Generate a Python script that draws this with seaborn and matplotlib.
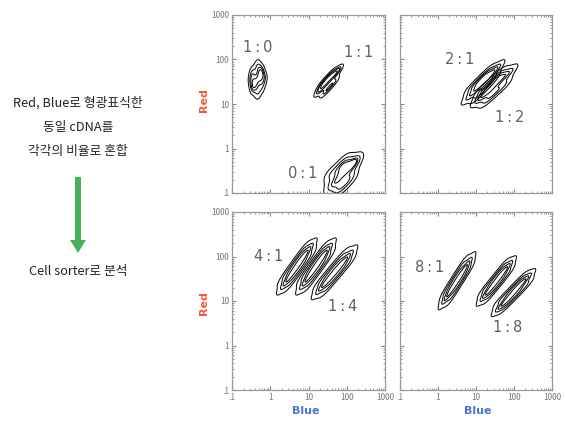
import matplotlib
matplotlib.use('Agg')
import numpy as np
import pandas as pd
import matplotlib.pyplot as plt
import seaborn as sns
from matplotlib.ticker import FixedLocator, FixedFormatter, LogLocator, NullFormatter

sns.set_style('white')
plt.rcParams['font.family'] = ['Noto Sans CJK KR', 'DejaVu Sans']

# approximate event positions, in decades (log10) of Blue / Red
# top left: 1:0, 1:1, 0:1
blue_10 = [-0.33, -0.46, -0.22, -0.5, -0.33, -0.15, -0.46, -0.24, -0.33, -0.4, -0.25]
red_10 = [1.22, 1.35, 1.38, 1.55, 1.55, 1.58, 1.72, 1.75, 1.88, 1.45, 1.65]
blue_11 = [1.25, 1.4, 1.55, 1.7, 1.8, 1.32, 1.47, 1.62, 1.4, 1.55, 1.7]
red_11 = [1.26, 1.4, 1.54, 1.68, 1.78, 1.42, 1.56, 1.7, 1.24, 1.38, 1.52]
blue_01 = [1.55, 1.75, 1.95, 2.15, 2.28, 1.55, 1.8, 2.0, 1.75, 1.95, 2.15]
red_01 = [-0.88, -0.7, -0.52, -0.35, -0.25, -0.6, -0.42, -0.25, -0.95, -0.8, -0.62]
# top right: 2:1, 1:2
blue_21 = [0.77, 1.0, 1.2, 1.4, 1.6, 0.85, 1.1, 1.33, 1.0, 1.25, 1.47]
red_21 = [1.12, 1.33, 1.5, 1.67, 1.85, 1.35, 1.55, 1.75, 1.15, 1.37, 1.57]
blue_12 = [1.03, 1.25, 1.47, 1.7, 1.93, 1.13, 1.4, 1.65, 1.25, 1.5, 1.77]
red_12 = [1.07, 1.23, 1.4, 1.6, 1.75, 1.3, 1.5, 1.7, 1.05, 1.25, 1.45]
# bottom left: 4:1, 1:4
blue_41a = [0.33, 0.52, 0.7, 0.87, 1.06, 0.345, 0.615, 0.875, 0.515, 0.785, 1.045]
red_41a = [1.33, 1.57, 1.78, 1.99, 2.22, 1.53, 1.85, 2.16, 1.39, 1.71, 2.02]
blue_41b = [0.83, 1.02, 1.2, 1.37, 1.56, 0.845, 1.115, 1.375, 1.015, 1.285, 1.545]
red_41b = [1.33, 1.57, 1.78, 1.99, 2.22, 1.53, 1.85, 2.16, 1.39, 1.71, 2.02]
blue_14 = [1.26, 1.48, 1.68, 1.88, 2.1, 1.3, 1.6, 1.9, 1.46, 1.76, 2.06]
red_14 = [1.22, 1.44, 1.65, 1.85, 2.07, 1.42, 1.73, 2.03, 1.26, 1.57, 1.87]
# bottom right: 8:1, 1:8
blue_81 = [0.16, 0.34, 0.5, 0.66, 0.84, 0.18, 0.42, 0.66, 0.34, 0.58, 0.82]
red_81 = [1.0, 1.24, 1.46, 1.67, 1.91, 1.19, 1.52, 1.84, 1.07, 1.4, 1.72]
blue_18a = [1.17, 1.36, 1.54, 1.71, 1.9, 1.2, 1.47, 1.73, 1.34, 1.61, 1.87]
red_18a = [1.06, 1.26, 1.45, 1.64, 1.84, 1.24, 1.52, 1.8, 1.1, 1.38, 1.66]
blue_18b = [1.58, 1.79, 1.99, 2.18, 2.39, 1.62, 1.92, 2.21, 1.76, 2.06, 2.35]
red_18b = [0.82, 1.01, 1.19, 1.37, 1.56, 1.0, 1.26, 1.52, 0.86, 1.12, 1.38]

ticks = [0.1, 1, 10, 100, 1000]
y_ticklabels = ['.1', '1', '10', '100', '1000']
x_ticklabels = ['.1', '1', '10', '100', '1000']

# ratio labels (text, blue, red)
labels_tl = [('1\u2009:\u20090', 0.46, 190), ('1\u2009:\u20091', 208, 147), ('0\u2009:\u20091', 7, 0.28)]
labels_tr = [('2\u2009:\u20091', 3.8, 100), ('1\u2009:\u20092', 78, 5.1)]
labels_bl = [('4\u2009:\u20091', 0.9, 98), ('1\u2009:\u20094', 78, 7.7)]
labels_br = [('8\u2009:\u20091', 0.62, 58), ('1\u2009:\u20098', 69, 2.5)]

W, H = 565, 421
fig = plt.figure(figsize=(W / 100, H / 100), dpi=100)


def px_axes(x0, y0, x1, y1):
    return fig.add_axes([x0 / W, 1 - y1 / H, (x1 - x0) / W, (y1 - y0) / H])


panels = [
    (px_axes(232, 15, 385, 193), [(blue_10, red_10), (blue_11, red_11), (blue_01, red_01)], labels_tl, True, False),
    (px_axes(400, 15, 552, 193), [(blue_21, red_21), (blue_12, red_12)], labels_tr, False, False),
    (px_axes(232, 212, 385, 390), [(blue_41a, red_41a), (blue_41b, red_41b), (blue_14, red_14)], labels_bl, True, True),
    (px_axes(400, 212, 552, 390), [(blue_81, red_81), (blue_18a, red_18a), (blue_18b, red_18b)], labels_br, False, True),
]

for ax, clusters, labels, show_y, show_x in panels:
    for bx, ry in clusters:
        df = pd.DataFrame({'Blue': np.power(10.0, bx), 'Red': np.power(10.0, ry)})
        sns.kdeplot(data=df, x='Blue', y='Red', log_scale=True, levels=5, thresh=0.15,
                    bw_adjust=0.9, color='black', linewidths=0.7, ax=ax)
    ax.set_xscale('log')
    ax.set_yscale('log')
    ax.set_xlim(0.1, 1000)
    ax.set_ylim(0.1, 1000)
    ax.set_xlabel('')
    ax.set_ylabel('')
    for txt, tx, ty in labels:
        ax.text(tx, ty, txt, fontsize=10.5, color='#606060', ha='center', va='center',
                family=['DejaVu Sans'])
    for sp in ax.spines.values():
        sp.set_color('#9a9a9a')
        sp.set_linewidth(0.9)
    ax.xaxis.set_major_locator(FixedLocator(ticks))
    ax.yaxis.set_major_locator(FixedLocator(ticks))
    ax.xaxis.set_minor_locator(LogLocator(base=10, subs=np.arange(2, 10)))
    ax.yaxis.set_minor_locator(LogLocator(base=10, subs=np.arange(2, 10)))
    ax.xaxis.set_minor_formatter(NullFormatter())
    ax.yaxis.set_minor_formatter(NullFormatter())
    ax.xaxis.set_major_formatter(FixedFormatter(x_ticklabels if show_x else [''] * 5))
    ax.yaxis.set_major_formatter(FixedFormatter(y_ticklabels if show_y else [''] * 5))
    ax.tick_params(which='both', direction='in', top=True, right=True, bottom=True, left=True,
                   color='#888888', labelsize=6, labelcolor='#777777', pad=2)
    ax.tick_params(which='major', length=3, width=0.8)
    ax.tick_params(which='minor', length=1.5, width=0.6)

# axis titles
for yc in (100, 303):
    fig.text(204 / W, 1 - yc / H, 'Red', rotation=90, color='#f05a3c', fontsize=8,
             fontweight='bold', ha='center', va='center', family=['DejaVu Sans'])
for xc in (306, 478):
    fig.text(xc / W, 1 - 411 / H, 'Blue', color='#4a78cc', fontsize=8,
             fontweight='bold', ha='center', va='center', family=['DejaVu Sans'])

# left side description
left_lines = ['Red, Blue로 형광표식한', '동일 cDNA를', '각각의 비율로 혼합']
for i, line in enumerate(left_lines):
    fig.text(78 / W, 1 - (103 + 24 * i) / H, line, fontsize=9.2, color='#222222',
             ha='center', va='center')
fig.text(78 / W, 1 - 271 / H, 'Cell sorter로 분석', fontsize=9.2, color='#222222',
         ha='center', va='center')
fig.patches.append(matplotlib.patches.FancyArrow(
    78 / W, 1 - 177 / H, 0, -(76 / H), width=6 / W, head_width=16 / W, head_length=13 / H,
    length_includes_head=True, transform=fig.transFigure, color='#44b25c', ec='none'))

fig.savefig('out.png', dpi=100)
